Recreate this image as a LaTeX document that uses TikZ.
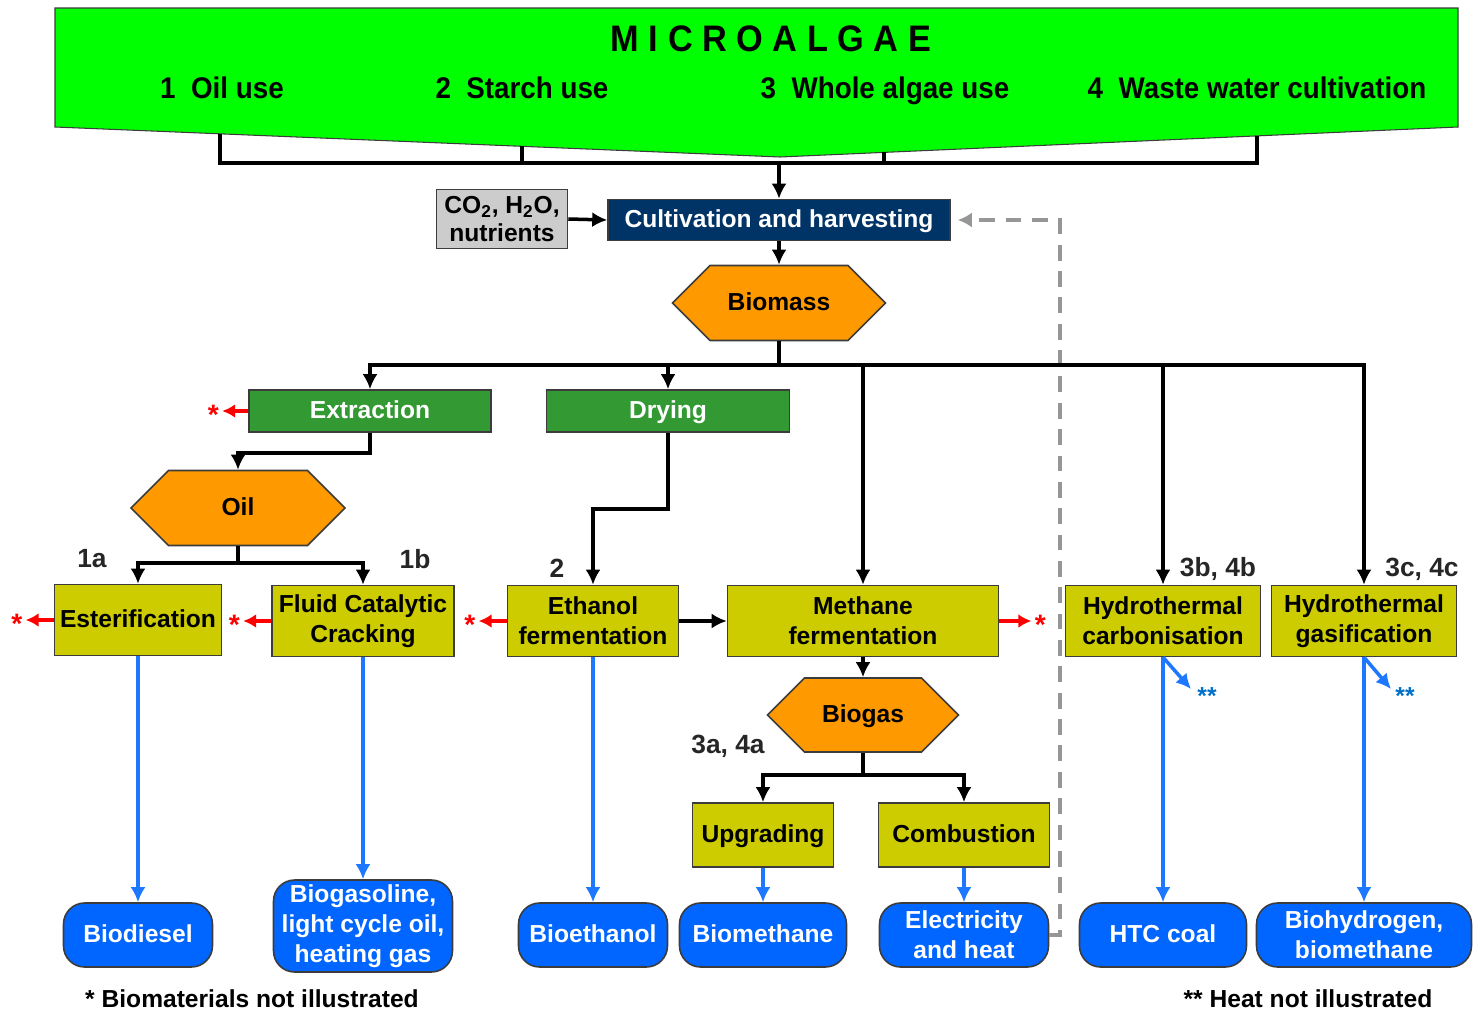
\documentclass[tikz,border=0pt]{standalone}
\usepackage{fontspec}
\setmainfont{Liberation Sans}
\newfontfamily\bannerfont[FakeStretch=0.93]{Liberation Sans}
\usetikzlibrary{arrows.meta,calc,shapes.symbols}
\definecolor{bannergreen}{RGB}{0,255,0}
\definecolor{navybox}{RGB}{0,51,102}
\definecolor{leafgreen}{RGB}{51,153,51}
\definecolor{hexorange}{RGB}{255,153,0}
\definecolor{procyellow}{RGB}{204,204,0}
\definecolor{prodblue}{RGB}{0,102,255}
\definecolor{linkblue}{RGB}{30,120,255}
\definecolor{starblue}{RGB}{0,112,200}
\definecolor{edgegray}{RGB}{60,60,60}
\definecolor{loopgray}{RGB}{150,150,150}
\definecolor{inputgray}{RGB}{204,204,204}

\begin{document}
\begin{tikzpicture}[
  x=0.02cm, y=-0.02cm,
  font=\fontsize{14}{17}\selectfont\bfseries,
  oneline/.style={text height=1.05em, text depth=0.17em},
  box/.style={draw=edgegray, line width=0.9pt, inner sep=0pt, align=center},
  proc/.style={box, fill=procyellow, minimum height=1.42cm},
  prep/.style={box, oneline, fill=leafgreen, text=white, minimum height=0.84cm},
  hex/.style={draw=edgegray, line width=0.9pt, fill=hexorange, oneline, signal, signal to=east and west, signal pointer angle=90, inner sep=0pt},
  prod/.style={box, fill=prodblue, text=white, rounded corners=12pt, minimum height=1.28cm},
  usetext/.style={oneline, font=\bannerfont\fontsize{17}{20}\selectfont\bfseries},
  tag/.style={font=\fontsize{15}{17}\selectfont\bfseries, text=black!85},
  redstar/.style={text=red, inner sep=1pt, yshift=-2pt, font=\fontsize{16}{17}\selectfont\bfseries},
  bluestar/.style={text=starblue, inner sep=1pt},
  note/.style={font=\fontsize{14}{16}\selectfont\bfseries},
  line/.style={line width=2pt},
  arr/.style={-{Latex[length=3mm,width=3mm]}, line width=2pt},
  bluearr/.style={arr, linkblue},
  redarr/.style={-{Latex[length=2.6mm,width=2.8mm]}, line width=2pt, red},
  looparr/.style={-{Latex[length=2.8mm,width=3mm]}, line width=2pt, loopgray, dash pattern=on 9pt off 6pt, shorten >=4pt}
]
\useasboundingbox (0,0) rectangle (1474,1014);

\coordinate (bl) at (55,127);
\coordinate (bm) at (780,157);
\coordinate (br) at (1458,127);
\draw[draw=edgegray, line width=0.6pt, fill=bannergreen] (55,8) -- (1458,8) -- (br) -- (bm) -- (bl) -- cycle;
\node[font=\bannerfont\fontsize{21}{24}\selectfont\bfseries] (title) at (771,39) {M I C R O A L G A E};
\node[usetext] (use1) at (222,91) {1\ \ Oil use};
\node[usetext] (use2) at (522,91) {2\ \ Starch use};
\node[usetext] (use3) at (885,91) {3\ \ Whole algae use};
\node[usetext] (use4) at (1257,91) {4\ \ Waste water cultivation};

\coordinate (u1) at ($(bl)!0.2276!(bm)$);
\coordinate (u2) at ($(bl)!0.644!(bm)$);
\coordinate (u3) at ($(bm)!0.1534!(br)$);
\coordinate (u4) at ($(bm)!0.7035!(br)$);
\coordinate (fork) at (779,163);

\node[box, oneline, fill=navybox, text=white, minimum width=6.84cm, minimum height=0.82cm] (cult) at (779,220) {Cultivation and harvesting};
\node[box, fill=inputgray, minimum width=2.62cm, minimum height=1.18cm, font=\fontsize{14}{15.5}\selectfont\bfseries] (input) at (502,219) {CO\textsubscript{2}, H\textsubscript{2}O,\\nutrients};
\node[hex, minimum width=4.26cm, minimum height=1.5cm] (biomass) at (779,303) {Biomass};

\node[prep, minimum width=4.84cm] (extr) at (370,411) {Extraction};
\node[prep, minimum width=4.86cm] (dry) at (668,411) {Drying};
\node[hex, minimum width=4.28cm, minimum height=1.5cm] (oil) at (238,508) {Oil};

\node[proc, oneline, minimum width=3.34cm] (ester) at (138,620) {Esterification};
\node[proc, minimum width=3.64cm] (fcc) at (363,621) {Fluid Catalytic\\Cracking};
\node[proc, minimum width=3.42cm] (ethf) at (593,621) {Ethanol\\fermentation};
\node[proc, minimum width=5.42cm] (meth) at (863,621) {Methane\\fermentation};
\node[proc, minimum width=3.9cm] (htc) at (1163,621) {Hydrothermal\\carbonisation};
\node[proc, minimum width=3.7cm] (htg) at (1364,621) {Hydrothermal\\gasification};

\node[hex, minimum width=3.82cm, minimum height=1.48cm] (biogas) at (863,715) {Biogas};
\node[proc, oneline, minimum width=2.82cm, minimum height=1.28cm] (upg) at (763,835) {Upgrading};
\node[proc, oneline, minimum width=3.42cm, minimum height=1.28cm] (comb) at (964,835) {Combustion};

\node[prod, oneline, minimum width=2.98cm] (biodiesel) at (138,935) {Biodiesel};
\node[prod, minimum width=3.58cm, minimum height=1.84cm] (gasoline) at (363,926) {Biogasoline,\\light cycle oil,\\heating gas};
\node[prod, oneline, minimum width=2.98cm] (bioeth) at (593,935) {Bioethanol};
\node[prod, oneline, minimum width=3.34cm] (biometh) at (763,935) {Biomethane};
\node[prod, minimum width=3.38cm] (elec) at (964,935) {Electricity\\and heat};
\node[prod, oneline, minimum width=3.34cm] (htccoal) at (1163,935) {HTC coal};
\node[prod, minimum width=4.3cm] (bioh2) at (1364,935) {Biohydrogen,\\biomethane};

\node[tag] (t1a) at (92,559) {1a};
\node[tag] (t1b) at (415,559) {1b};
\node[tag] (t2) at (557,568) {2};
\node[tag] (t3a) at (728,746) {3a, 4a};
\node[tag] (t3b) at (1218,569) {3b, 4b};
\node[tag] (t3c) at (1422,569) {3c, 4c};

\node[note] (fn1) at (252,999) {* Biomaterials not illustrated};
\node[note] (fn2) at (1308,999) {** Heat not illustrated};

\draw[line] (u1) |- (fork) -| (u4);
\draw[line] (u2) -- (u2 |- fork);
\draw[line] (u3) -- (u3 |- fork);
\draw[arr] (fork) -- (cult.north);
\draw[arr] (input.east) -- (cult.west);
\draw[arr] (cult.south) -- (biomass.north);
\draw[looparr] (elec.east) -| (1060,220) -- (cult.east);

\coordinate (bhub) at (779,365);
\draw[line] (biomass.south) -- (bhub);
\draw[arr] (bhub) -| (extr.north);
\draw[arr] (bhub) -| (dry.north);
\draw[arr] (bhub) -| (meth.north);
\draw[arr] (bhub) -| (htc.north);
\draw[arr] (bhub) -| (htg.north);

\draw[arr] (extr.south) -- ++(0,20) -| (oil.north);
\coordinate (ohub) at (238,563);
\draw[line] (oil.south) -- (ohub);
\draw[arr] (ohub) -| (ester.north);
\draw[arr] (ohub) -| (fcc.north);
\draw[arr] (dry.south) -- ++(0,76) -| (ethf.north);
\draw[arr] (ethf.east) -- (meth.west);
\draw[arr] (meth.south) -- (biogas.north);
\coordinate (ghub) at (863,775);
\draw[line] (biogas.south) -- (ghub);
\draw[arr] (ghub) -| (upg.north);
\draw[arr] (ghub) -| (comb.north);

\draw[bluearr] (ester.south) -- (biodiesel.north);
\draw[bluearr] (fcc.south) -- (gasoline.north);
\draw[bluearr] (ethf.south) -- (bioeth.north);
\draw[bluearr] (upg.south) -- (biometh.north);
\draw[bluearr] (comb.south) -- (elec.north);
\draw[bluearr] (htc.south) -- (htccoal.north);
\draw[bluearr] (htg.south) -- (bioh2.north);

\node[bluestar] (heat1) at (1207,696) {**};
\node[bluestar] (heat2) at (1405,696) {**};
\draw[bluearr] (htc.south) -- (1191,689);
\draw[bluearr] (htg.south) -- (1391,689);

\draw[redarr] (extr.west) -- ++(-26,0) node[left, redstar] (s1) {*};
\draw[redarr] (ester.west) -- ++(-28,0) node[left, redstar] (s2) {*};
\draw[redarr] (fcc.west) -- ++(-28,0) node[left, redstar] (s3) {*};
\draw[redarr] (ethf.west) -- ++(-28,0) node[left, redstar] (s4) {*};
\draw[redarr] (meth.east) -- ++(32,0) node[right, redstar] (s5) {*};
\end{tikzpicture}
\end{document}
